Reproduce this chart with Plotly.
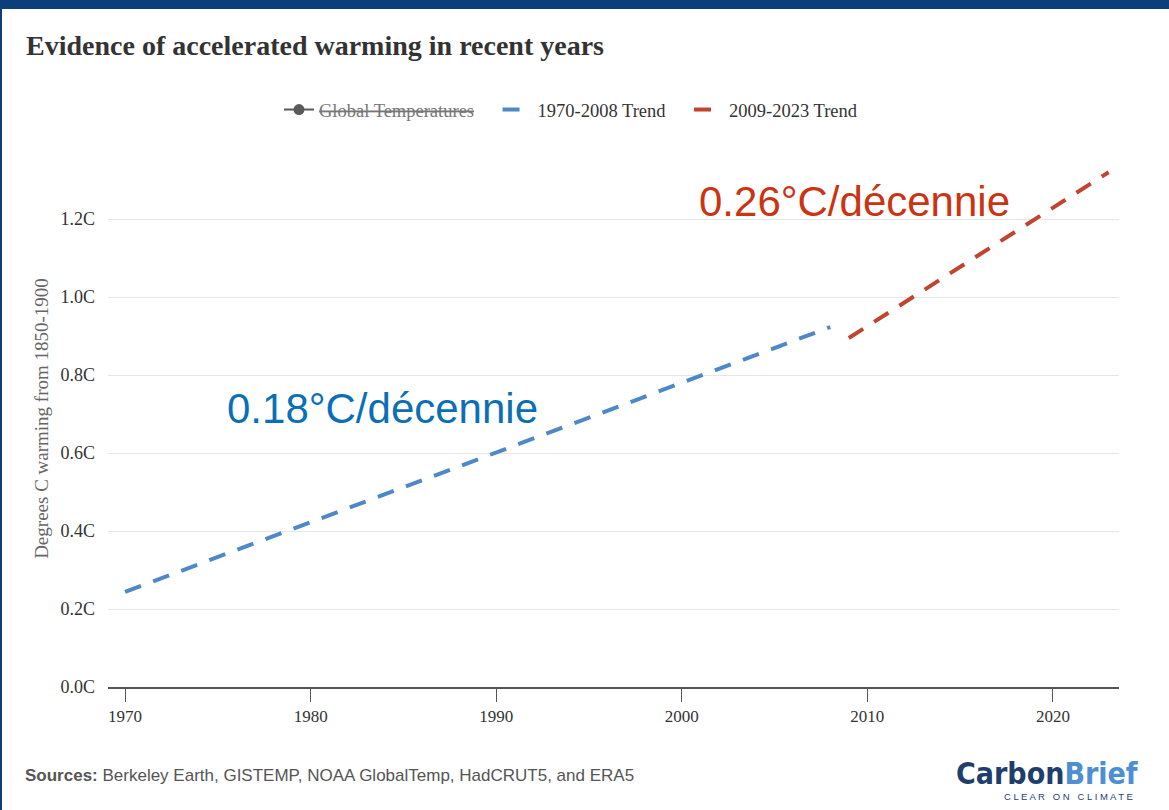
import plotly.graph_objects as go

# ---- data ----
trend1_years = [1970, 2008]
trend1_values = [0.244, 0.923]
trend2_years = [2009, 2023]
trend2_values = [0.895, 1.32]
global_years = [None]
global_values = [None]
y_ticks = [0.0, 0.2, 0.4, 0.6, 0.8, 1.0, 1.2]
y_tick_labels = ["0.0C", "0.2C", "0.4C", "0.6C", "0.8C", "1.0C", "1.2C"]
x_ticks = [1970, 1980, 1990, 2000, 2010, 2020]

W, H = 1169, 810
L, R, T, B = 108, 1119, 150, 687

def px(x):
    return (x - L) / (R - L)

def py(y):
    return (B - y) / (B - T)

SERIF = "Liberation Serif, Times New Roman, serif"
SANS = "Liberation Sans, Arial, sans-serif"
NB = "\u00a0"
DASH = "17px,13px"

fig = go.Figure()
fig.add_trace(go.Scatter(
    x=global_years, y=global_values, mode="lines+markers",
    name='<span style="text-decoration:line-through;color:#777777">Global Temperatures</span>' + NB * 4,
    line=dict(color="#5a5a5a", width=2), marker=dict(size=11, color="#5a5a5a")))
fig.add_trace(go.Scatter(
    x=trend1_years, y=trend1_values, mode="lines", name="1970-2008 Trend" + NB * 4,
    line=dict(color="#4f88c6", width=4, dash=DASH)))
fig.add_trace(go.Scatter(
    x=trend2_years, y=trend2_values, mode="lines", name="2009-2023 Trend",
    line=dict(color="#bf452e", width=4, dash=DASH)))

annotations = [
    dict(text="<b>Evidence of accelerated warming in recent years</b>",
         x=px(24), y=py(45), xref="paper", yref="paper", xanchor="left", yanchor="middle",
         showarrow=False, font=dict(family=SERIF, size=28, color="#333333")),
    dict(text="0.18°C/décennie", x=1983.85, y=0.715, xref="x", yref="y",
         xanchor="center", yanchor="middle", showarrow=False,
         font=dict(family=SANS, size=42, color="#0b6fb6")),
    dict(text="0.26°C/décennie", x=2009.3, y=1.245, xref="x", yref="y",
         xanchor="center", yanchor="middle", showarrow=False,
         font=dict(family=SANS, size=42, color="#cc3311")),
    dict(text="<b>Sources:</b> Berkeley Earth, GISTEMP, NOAA GlobalTemp, HadCRUT5, and ERA5",
         x=px(23), y=py(775), xref="paper", yref="paper", xanchor="left", yanchor="middle",
         showarrow=False, font=dict(family=SANS, size=17, color="#555555")),
    dict(text='<b><span style="color:#1e3f6c">Carbon</span><span style="color:#4d8fd1">Brief</span></b>',
         x=px(1140), y=py(773), xref="paper", yref="paper", xanchor="right", yanchor="middle",
         showarrow=False,
         font=dict(family="DejaVu Sans Condensed, Liberation Sans Narrow, Arial Narrow, sans-serif", size=30)),
    dict(text="C L E A R   O N   C L I M A T E",
         x=px(1135), y=py(796), xref="paper", yref="paper", xanchor="right", yanchor="middle",
         showarrow=False, font=dict(family=SANS, size=9.5, color="#1e3f6c")),
]

shapes = [
    dict(type="rect", xref="paper", yref="paper", x0=px(0), x1=px(W), y0=py(9), y1=py(0),
         fillcolor="#0a3f7c", line=dict(width=0), layer="above"),
    dict(type="rect", xref="paper", yref="paper", x0=px(0), x1=px(2), y0=py(H), y1=py(0),
         fillcolor="#0a3f7c", line=dict(width=0), layer="above"),
]

fig.update_layout(
    width=W, height=H,
    margin=dict(l=L, r=W - R, t=T, b=H - B, pad=0),
    paper_bgcolor="white", plot_bgcolor="white",
    showlegend=True,
    legend=dict(orientation="h", x=px(571), xanchor="center", y=py(110), yanchor="middle",
                font=dict(family=SERIF, size=18.5, color="#333333"),
                bgcolor="rgba(0,0,0,0)"),
    annotations=annotations, shapes=shapes,
    xaxis=dict(range=[1969.08, 2023.56], tickvals=x_ticks, ticktext=[str(v) for v in x_ticks],
               showgrid=False, zeroline=False, showline=True, linecolor="#555555", linewidth=2,
               ticks="outside", ticklen=13, tickcolor="#555555", tickwidth=1,
               tickfont=dict(family=SERIF, size=17, color="#333333")),
    yaxis=dict(range=[0, 1.377], tickvals=y_ticks, ticktext=y_tick_labels,
               showgrid=True, gridcolor="#e6e6e6", gridwidth=1, zeroline=False, showline=False,
               ticks="", ticklabelstandoff=12,
               tickfont=dict(family=SERIF, size=18, color="#333333"),
               title=dict(text="Degrees C warming from 1850-1900", standoff=6,
                          font=dict(family=SERIF, size=19, color="#666666"))),
)

fig.write_html("out.html", config={"displayModeBar": False},
               post_script="document.body.style.margin='0';document.body.style.padding='0';")
